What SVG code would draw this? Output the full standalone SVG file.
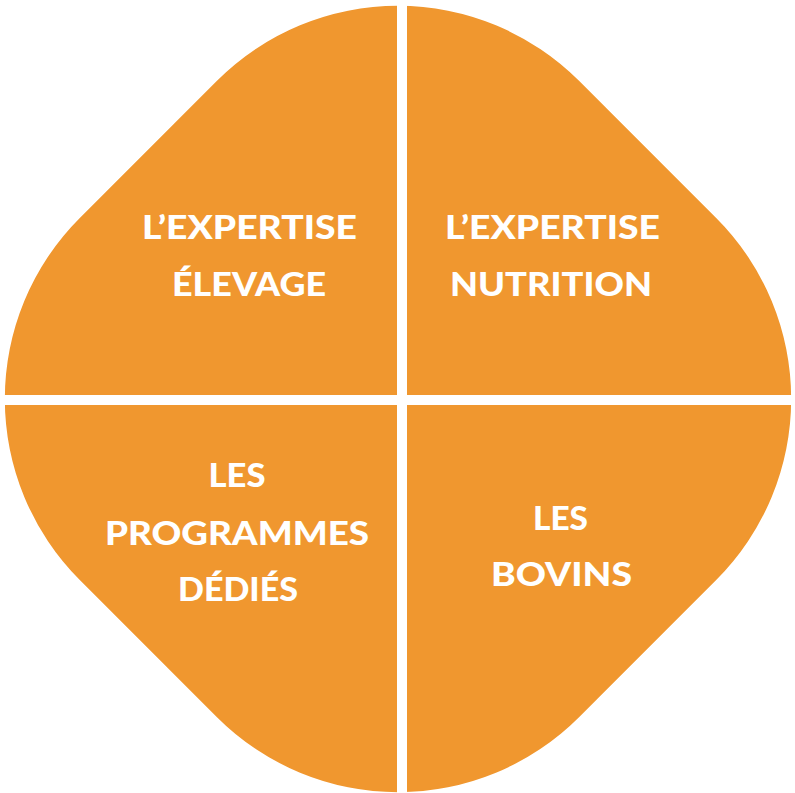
<svg xmlns="http://www.w3.org/2000/svg" width="795" height="793" viewBox="0 0 795 793">
  <style>
    .q { fill: #F0972F; }
    .t { fill: #FFFFFF; font-family: Lato, "Open Sans", "DejaVu Sans", sans-serif; font-weight: 900; font-size: 32px; text-anchor: middle; }
  </style>
  <defs>
    <clipPath id="shape">
      <rect x="45" y="46" width="706" height="706" rx="256" ry="256" transform="rotate(45 398 399)"/>
    </clipPath>
  </defs>
  <rect width="795" height="793" fill="#FFFFFF"/>
  <g clip-path="url(#shape)">
    <g id="q-expertise-elevage">
      <rect class="q" x="0" y="0" width="397" height="395"/>
      <text class="t" x="249.5" y="239" textLength="215" lengthAdjust="spacingAndGlyphs">L’EXPERTISE</text>
      <text class="t" x="249" y="296" textLength="154" lengthAdjust="spacingAndGlyphs">ÉLEVAGE</text>
    </g>
    <g id="q-expertise-nutrition">
      <rect class="q" x="407" y="0" width="388" height="395"/>
      <text class="t" x="552.5" y="239" textLength="215" lengthAdjust="spacingAndGlyphs">L’EXPERTISE</text>
      <text class="t" x="551" y="296" textLength="202" lengthAdjust="spacingAndGlyphs">NUTRITION</text>
    </g>
    <g id="q-programmes-dedies">
      <rect class="q" x="0" y="405" width="397" height="388"/>
      <text class="t" x="237" y="487" textLength="57" lengthAdjust="spacingAndGlyphs">LES</text>
      <text class="t" x="237" y="545" textLength="264" lengthAdjust="spacingAndGlyphs">PROGRAMMES</text>
      <text class="t" x="238" y="601" textLength="120" lengthAdjust="spacingAndGlyphs">DÉDIÉS</text>
    </g>
    <g id="q-bovins">
      <rect class="q" x="407" y="405" width="388" height="388"/>
      <text class="t" x="560.5" y="530" textLength="55" lengthAdjust="spacingAndGlyphs">LES</text>
      <text class="t" x="561.5" y="586" textLength="141" lengthAdjust="spacingAndGlyphs">BOVINS</text>
    </g>
  </g>
  <g id="connectors"/>
</svg>
